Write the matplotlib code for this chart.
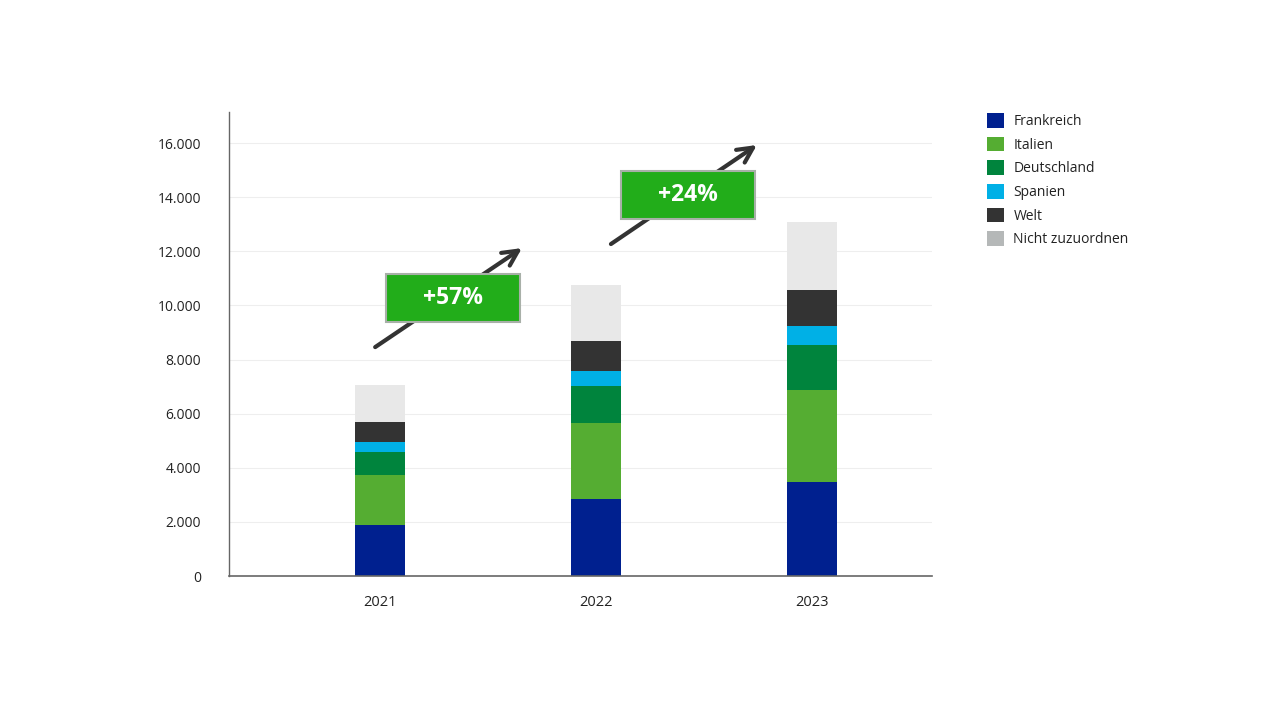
import matplotlib.pyplot as plt
import matplotlib.ticker as mticker
from matplotlib.patches import Rectangle, Patch

plt.rcParams['font.family'] = ['Open Sans', 'DejaVu Sans']

# Daten
jahre = ['2021', '2022', '2023']
frankreich = [1870, 2850, 3460]
italien = [1850, 2820, 3410]
deutschland = [870, 1360, 1680]
spanien = [370, 560, 680]
welt = [720, 1110, 1330]
nicht_zuzuordnen = [1370, 2050, 2530]

reihen = ['Frankreich', 'Italien', 'Deutschland', 'Spanien', 'Welt', 'Nicht zuzuordnen']
werte = [frankreich, italien, deutschland, spanien, welt, nicht_zuzuordnen]
farben = ['#00208f', '#55ad32', '#00843d', '#00b0e6', '#333333', '#e8e8e8']
legend_farben = ['#00208f', '#55ad32', '#00843d', '#00b0e6', '#333333', '#b5b8b8']

zuwachs = ['+57%', '+24%']

fig = plt.figure(figsize=(12.8, 7.2), dpi=100)
ax = fig.add_axes([229 / 1280, 1 - 576 / 720, 703 / 1280, 464 / 720])

x = range(len(jahre))
unten = [0] * len(jahre)
for name, w, c in zip(reihen, werte, farben):
    ax.bar(x, w, bottom=unten, width=0.23, color=c, label=name, zorder=2)
    unten = [u + v for u, v in zip(unten, w)]

ax.set_xlim(-0.70, 2.556)
ax.set_ylim(0, 17150)
ax.set_yticks(range(0, 16001, 2000))
ax.yaxis.set_major_formatter(mticker.FuncFormatter(lambda v, p: f'{int(v):,}'.replace(',', '.')))
ax.set_xticks(list(x))
ax.set_xticklabels(jahre)
ax.tick_params(axis='y', length=0, pad=20, labelsize=10, labelcolor='#222222')
ax.tick_params(axis='x', length=0, pad=14, labelsize=10.5, labelcolor='#222222')
ax.grid(axis='y', color='#eeeeee', linewidth=0.8, zorder=0)
ax.set_axisbelow(True)
for s in ['top', 'right']:
    ax.spines[s].set_visible(False)
ax.spines['left'].set_color('#666666')
ax.spines['bottom'].set_color('#666666')
ax.spines['left'].set_linewidth(1)
ax.spines['bottom'].set_linewidth(1.2)

# Pfeile und Wachstumsboxen
pfeile = [((-0.023, 8460), (0.657, 12120)), ((1.069, 12270), (1.745, 15930))]
boxen = [(0.028, 9387), (1.116, 13193)]
for (start, ende), (bx, by), txt in zip(pfeile, boxen, zuwachs):
    ax.annotate('', xy=ende, xytext=start,
                arrowprops=dict(arrowstyle='->,head_length=1.1,head_width=0.55',
                                color='#333333', lw=3, shrinkA=0, shrinkB=0), zorder=3)
    ax.add_patch(Rectangle((bx, by), 0.62, 1774, facecolor='#22ad1a',
                           edgecolor='#a8b0a8', linewidth=1.5, zorder=4))
    ax.text(bx + 0.31, by + 887, txt, ha='center', va='center', color='white',
            fontsize=16.5, fontweight='bold', zorder=5)

handles = [Patch(facecolor=c, edgecolor='none') for c in legend_farben]
fig.legend(handles, reihen, loc='upper left', bbox_to_anchor=(987 / 1280, 1 - 113 / 720),
           frameon=False, fontsize=10, handlelength=1.25, handleheight=1.25,
           handletextpad=0.65, labelspacing=0.55, borderaxespad=0, borderpad=0,
           labelcolor='#222222')

fig.savefig('out.png', dpi=100, facecolor='white')
